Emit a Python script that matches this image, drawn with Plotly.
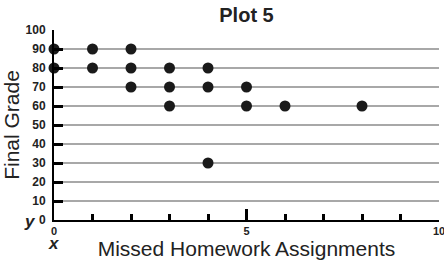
import plotly.graph_objects as go

missed = [0, 0, 1, 1, 2, 2, 2, 3, 3, 3, 4, 4, 4, 5, 5, 6, 8]
grade = [90, 80, 90, 80, 90, 80, 70, 80, 70, 60, 80, 70, 30, 70, 60, 60, 60]
y_ticks = [0, 10, 20, 30, 40, 50, 60, 70, 80, 90, 100]

FONT = "Liberation Sans, Arial, sans-serif"

fig = go.Figure()
fig.add_trace(go.Scatter(
    x=missed, y=grade, mode="markers",
    marker=dict(color="#1a1a1a", size=11),
    cliponaxis=False, showlegend=False,
))

fig.update_layout(
    width=444, height=266,
    margin=dict(l=54, r=5, t=30, b=46, autoexpand=False),
    plot_bgcolor="white", paper_bgcolor="white",
    title=dict(text="<b>Plot 5</b>", x=0.5, xref="paper", y=0.945, yref="container",
               xanchor="center", yanchor="middle",
               font=dict(family=FONT, size=20, color="#222")),
    font=dict(family=FONT, color="#222"),
)

fig.update_xaxes(
    range=[0, 10], tickmode="linear", tick0=0, dtick=5,
    automargin=False, ticklabeloverflow="allow",
    showgrid=False, zeroline=False,
    showline=True, linecolor="black", linewidth=2,
    ticks="inside", ticklen=11, tickwidth=2.5, tickcolor="black",
    tickfont=dict(family=FONT, size=11, color="#222", weight="bold"),
    minor=dict(tick0=0, dtick=1, ticks="inside", ticklen=6, tickwidth=2.5,
               tickcolor="black", showgrid=False),
    title=dict(text="Missed Homework Assignments", standoff=4,
               font=dict(family=FONT, size=21, color="#222")),
)

fig.update_yaxes(
    range=[0, 100], tickvals=y_ticks,
    automargin=False,
    showgrid=True, gridcolor="#a8a8a8", gridwidth=2, zeroline=False,
    showline=True, linecolor="black", linewidth=2,
    ticks="inside", ticklen=9, tickwidth=2.5, tickcolor="black",
    ticklabelstandoff=4,
    tickfont=dict(family=FONT, size=12, color="#222", weight="bold"),
    title=dict(text="Final Grade", standoff=0,
               font=dict(family=FONT, size=21, color="#222")),
)

fig.add_annotation(text="<b><i>y</i></b>", xref="paper", yref="paper", x=0, y=0,
                   xshift=-24, yshift=-1, showarrow=False,
                   font=dict(family=FONT, size=17, color="#222"),
                   xanchor="center", yanchor="middle")
fig.add_annotation(text="<b><i>x</i></b>", xref="paper", yref="paper", x=0, y=0,
                   xshift=0, yshift=-23, showarrow=False,
                   font=dict(family=FONT, size=17, color="#222"),
                   xanchor="center", yanchor="middle")

fig.write_html("out.html", config={"displayModeBar": False},
               post_script="document.body.style.margin='0';document.body.style.overflow='hidden';")
